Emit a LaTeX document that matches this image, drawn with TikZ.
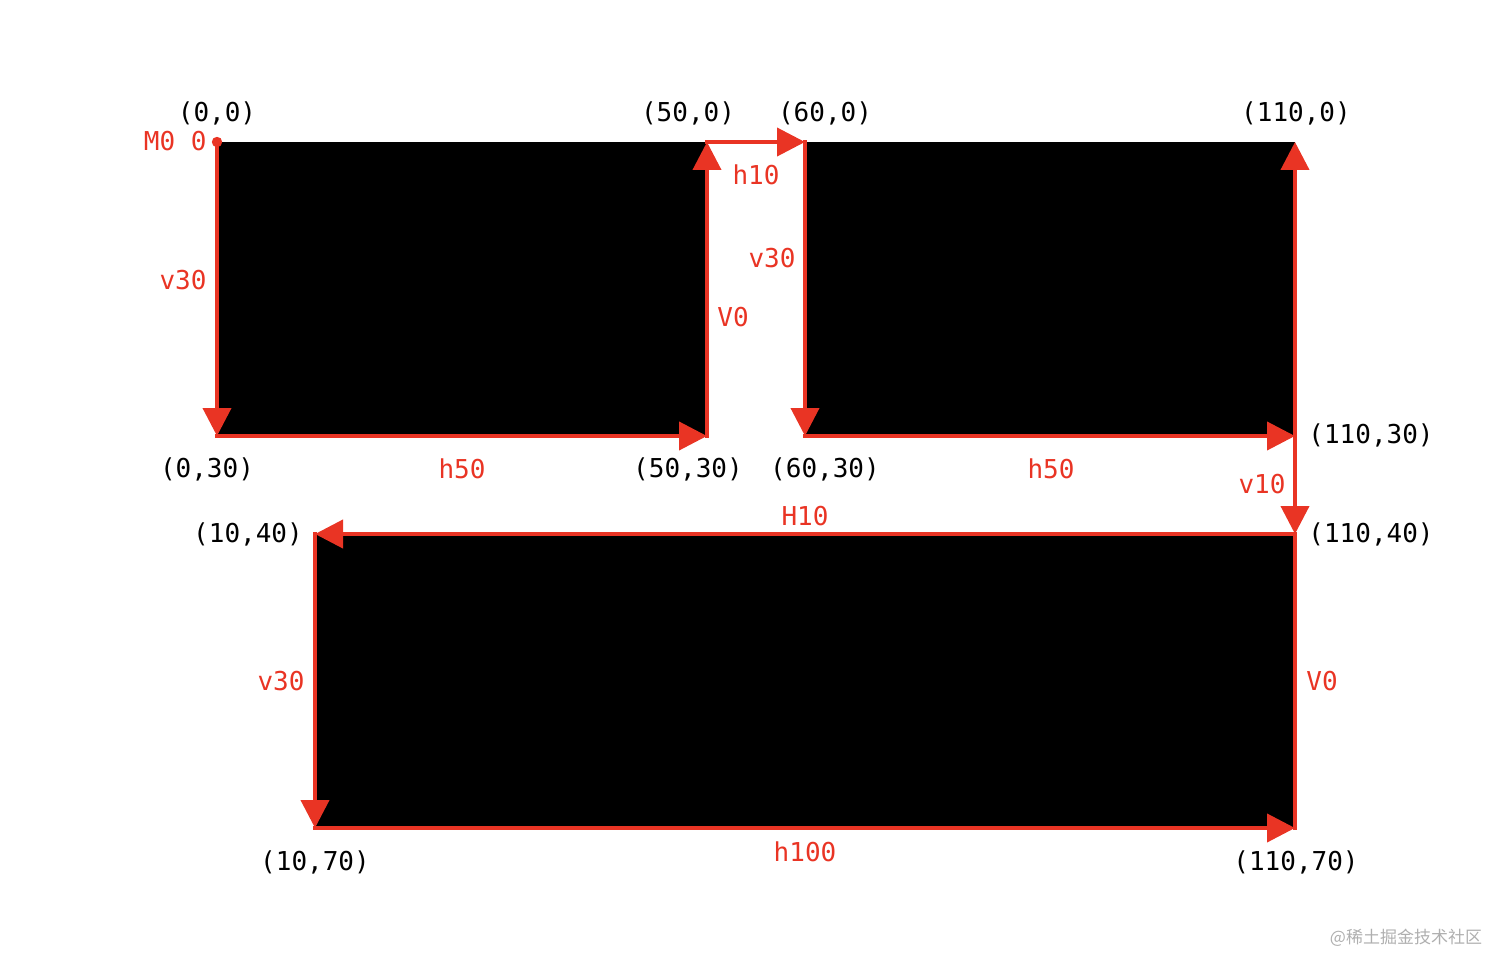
\documentclass[tikz,border=0pt]{standalone}
\usepackage{fontspec}
\setmonofont{DejaVu Sans Mono}
\newfontfamily\cjk{Noto Sans CJK SC}
\usetikzlibrary{arrows.meta}
\definecolor{pathred}{RGB}{233,52,36}
\definecolor{wmgrey}{RGB}{175,175,175}
\tikzset{
  seg/.style={draw=pathred, line width=2pt, line cap=rect},
  arr/.style={seg, -{Triangle[length=14pt,width=14pt]}},
  coordlbl/.style={font=\ttfamily\fontsize{13pt}{15pt}\selectfont, text=black, inner sep=0pt},
  cmdlbl/.style={font=\ttfamily\fontsize{13pt}{15pt}\selectfont, text=pathred, inner sep=0pt},
}
\begin{document}
\begin{tikzpicture}[x=0.5pt,y=-0.5pt]
\useasboundingbox (0,0) rectangle (1512,974);
% corner points
\coordinate (A) at (217,142);
\coordinate (B) at (217,436);
\coordinate (C) at (707,436);
\coordinate (D) at (707,142);
\coordinate (E) at (805,142);
\coordinate (F) at (805,436);
\coordinate (G) at (1295,436);
\coordinate (H) at (1295,142);
\coordinate (I) at (1295,534);
\coordinate (J) at (315,534);
\coordinate (K) at (315,828);
\coordinate (L) at (1295,828);
% black rectangles
\fill[black] (A) rectangle (C);
\fill[black] (E) rectangle (G);
\fill[black] (J) rectangle (L);
% red path
\draw[arr] (A) -- (B);
\draw[arr] (B) -- (C);
\draw[arr] (C) -- (D);
\draw[arr] (D) -- (E);
\draw[arr] (E) -- (F);
\draw[arr] (F) -- (G);
\draw[arr] (G) -- (H);
\draw[arr] (G) -- (I);
\draw[arr] (I) -- (J);
\draw[arr] (J) -- (K);
\draw[arr] (K) -- (L);
\draw[seg] (L) -- (I);
\fill[pathred] (A) circle (2.6pt);
% coordinate labels
\node[coordlbl] (t00) at (217,113) {(0,0)};
\node[coordlbl] (t500) at (688,113) {(50,0)};
\node[coordlbl] (t600) at (825,113) {(60,0)};
\node[coordlbl] (t1100) at (1296,113) {(110,0)};
\node[coordlbl] (t030) at (207,469) {(0,30)};
\node[coordlbl] (t5030) at (688,469) {(50,30)};
\node[coordlbl] (t6030) at (825,469) {(60,30)};
\node[coordlbl] (t11030) at (1371,435) {(110,30)};
\node[coordlbl] (t1040) at (248,534) {(10,40)};
\node[coordlbl] (t11040) at (1371,534) {(110,40)};
\node[coordlbl] (t1070) at (315,862) {(10,70)};
\node[coordlbl] (t11070) at (1296,862) {(110,70)};
% command labels
\node[cmdlbl, anchor=east] (m00) at (207,141) {M0 0};
\node[cmdlbl] (v30a) at (183,280) {v30};
\node[cmdlbl] (h50a) at (462,469) {h50};
\node[cmdlbl] (V0a) at (733,317) {V0};
\node[cmdlbl] (h10) at (756,175) {h10};
\node[cmdlbl] (v30b) at (772,258) {v30};
\node[cmdlbl] (h50b) at (1051,469) {h50};
\node[cmdlbl] (v10) at (1262,484) {v10};
\node[cmdlbl] (H10) at (805,516) {H10};
\node[cmdlbl] (v30c) at (281,681) {v30};
\node[cmdlbl] (V0b) at (1322,681) {V0};
\node[cmdlbl] (h100) at (805,852) {h100};
% watermark
\node[font=\cjk\fontsize{8.5pt}{10pt}\selectfont, text=wmgrey, inner sep=0pt] (wm) at (1406,938) {@稀土掘金技术社区};
\end{tikzpicture}
\end{document}
